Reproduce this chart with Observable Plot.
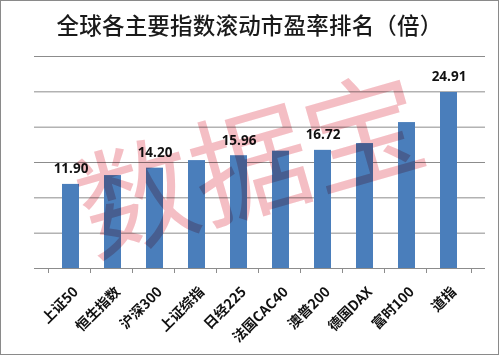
<!DOCTYPE html>
<html>
<head>
<meta charset="utf-8">
<script src="https://cdn.jsdelivr.net/npm/d3@7"></script>
<script src="https://cdn.jsdelivr.net/npm/@observablehq/plot@0.6"></script>
<style>
  html, body { margin: 0; padding: 0; background: #fff; }
  #wrap { width: 499px; height: 355px; box-sizing: border-box; border: 1px solid #8a8a8a; background: #fff; position: relative; overflow: hidden; }
  #title { height: 47px; line-height: 47px; text-align: center; font-family: "Noto Sans CJK SC", sans-serif; font-size: 22.5px; font-weight: 500; color: #1a1a1a; letter-spacing: 0.2px; }
  #chart svg { display: block; }
</style>
</head>
<body>
<div id="wrap">
  <div id="title">全球各主要指数滚动市盈率排名（倍）</div>
  <div id="chart"></div>
</div>
<script>
const categories = ["上证50", "恒生指数", "沪深300", "上证综指", "日经225", "法国CAC40", "澳普200", "德国DAX", "富时100", "道指"];
const values = [11.90, 13.15, 14.20, 15.27, 15.96, 16.60, 16.72, 17.68, 20.65, 24.91];
const valueLabels = ["11.90", "", "14.20", "", "15.96", "", "16.72", "", "", "24.91"];
const yTicks = [0, 5, 10, 15, 20, 25, 30];
const watermark = ["数据宝"];

const data = categories.map((c, i) => ({ name: c, value: values[i], label: valueLabels[i] }));
const labeled = data.filter(d => d.label !== "");
const step = 45;

const chart = Plot.plot({
  width: 497,
  height: 306,
  marginLeft: 33,
  marginRight: 13,
  marginTop: 8,
  marginBottom: 86,
  style: { fontFamily: "'Noto Sans CJK SC', sans-serif", background: "transparent", overflow: "visible" },
  x: { domain: categories, padding: 0.6, axis: null },
  y: { domain: [0, 30], axis: null },
  marks: [
    Plot.ruleY(yTicks.filter(t => t > 0), { stroke: "#8c8c8c", strokeWidth: 1 }),
    Plot.barY(data, { x: "name", y: "value", fill: "#4a7ebb" }),
    Plot.ruleY([0], { stroke: "#8c8c8c", strokeWidth: 1 }),
    Plot.ruleX(categories, { x: d => d, y1: 0, y2: 0, insetBottom: -5, dx: -step / 2, stroke: "#8c8c8c" }),
    Plot.ruleX(categories.slice(-1), { x: d => d, y1: 0, y2: 0, insetBottom: -5, dx: step / 2, stroke: "#8c8c8c" }),
    Plot.axisX({ tickSize: 0, tickRotate: -45, tickPadding: 21, fontSize: 14, fontWeight: "bold", fill: "#111", label: null, dx: 5 }),
    Plot.text(labeled, { x: "name", y: "value", text: "label", dy: -11, lineAnchor: "bottom", fontSize: 13.5, fontWeight: "bold", fill: "#111", fontFamily: "'Open Sans', sans-serif" }),
    Plot.text(watermark, { text: d => d, frameAnchor: "middle", dx: -8, dy: 8, rotate: -16, fontSize: 118, fill: "#f0a8b0", fillOpacity: 0.75, mixBlendMode: "multiply", fontFamily: "'Noto Sans CJK SC', sans-serif" })
  ]
});
document.getElementById("chart").appendChild(chart);
</script>
</body>
</html>
